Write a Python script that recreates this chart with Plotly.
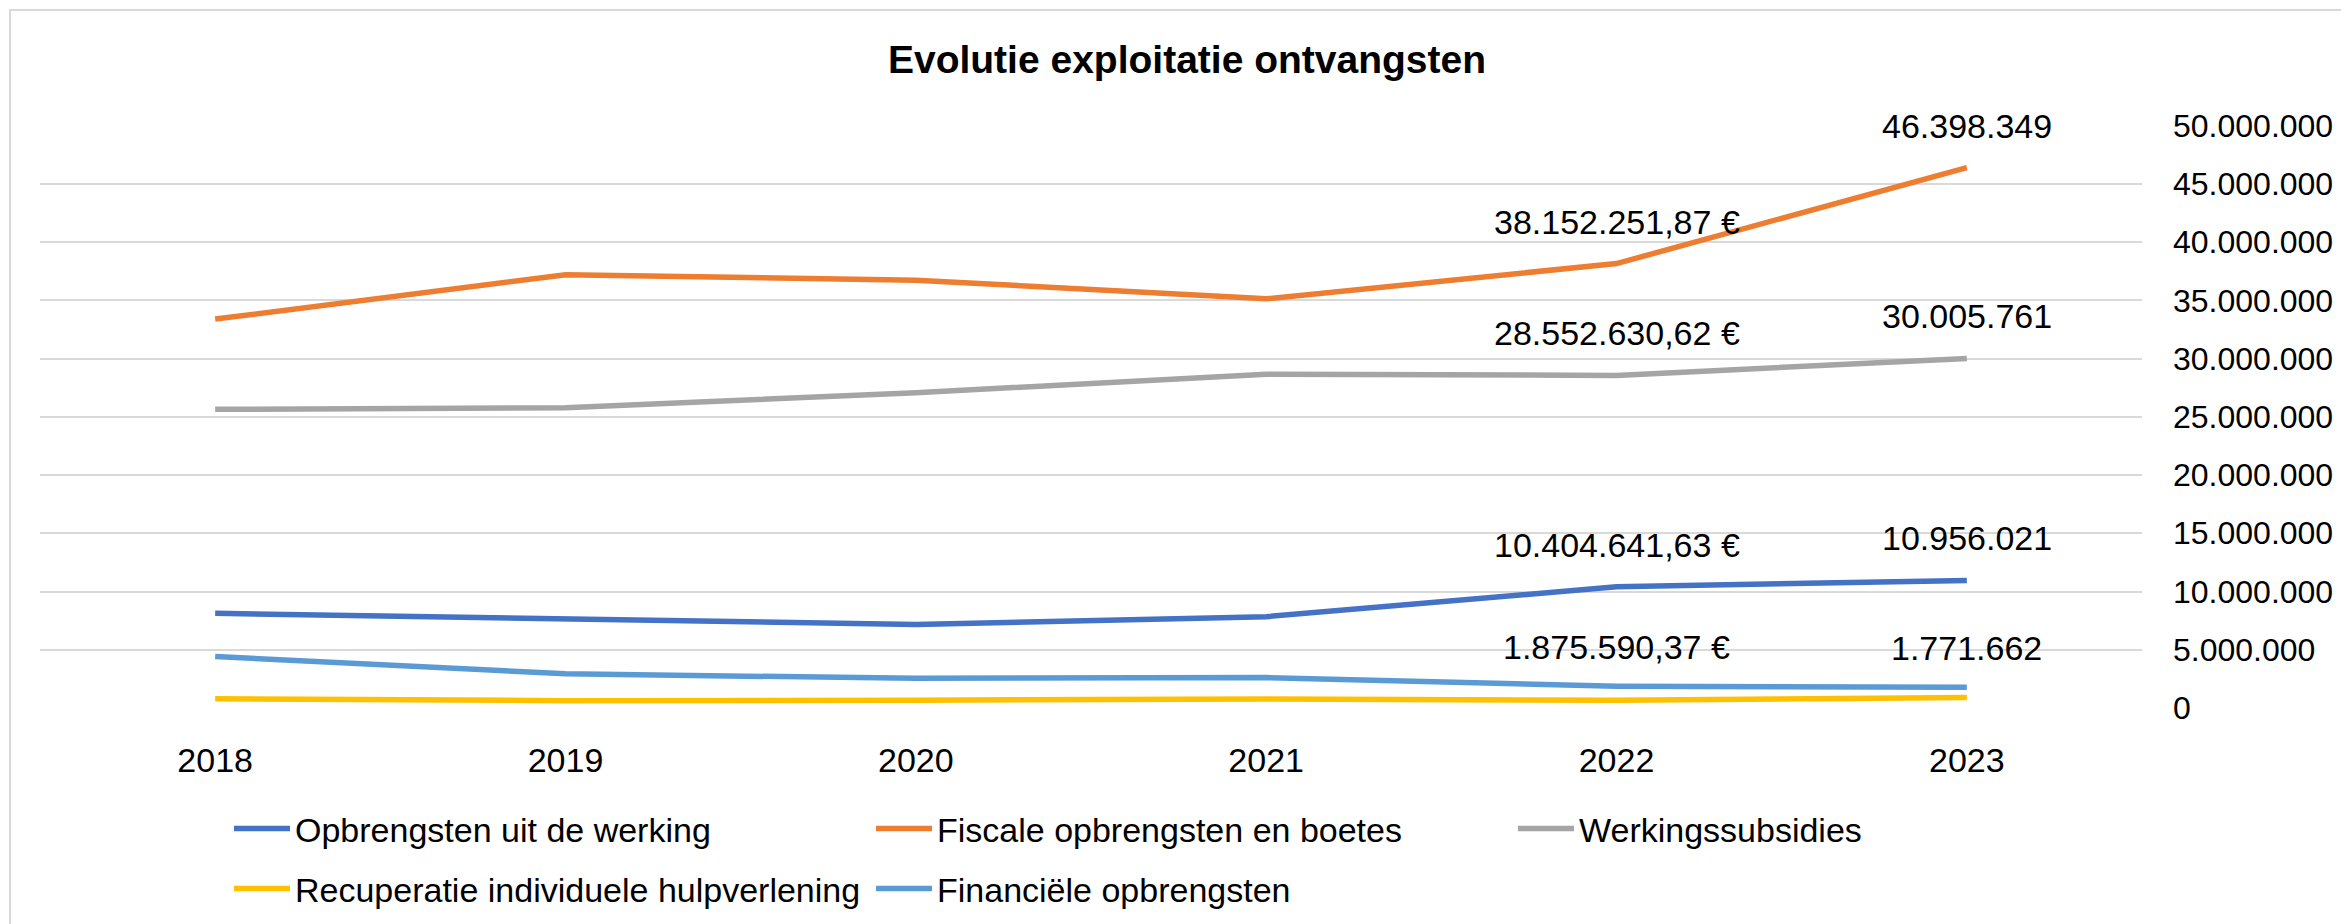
import plotly.graph_objects as go

years = ["2018", "2019", "2020", "2021", "2022", "2023"]

opbrengsten_werking = [8130000, 7630000, 7170000, 7840000, 10404641.63, 10956021]
fiscale_opbrengsten = [33390000, 37190000, 36730000, 35130000, 38152251.87, 46398349]
werkingssubsidies = [25640000, 25780000, 27060000, 28660000, 28552630.62, 30005761]
recuperatie_hulpverlening = [800000, 630000, 670000, 770000, 670000, 910000]
financiele_opbrengsten = [4420000, 2930000, 2550000, 2610000, 1875590.37, 1771662]

series_names = [
    "Opbrengsten uit de werking",
    "Fiscale opbrengsten en boetes",
    "Werkingssubsidies",
    "Recuperatie individuele hulpverlening",
    "Financiële opbrengsten",
]
series_values = [
    opbrengsten_werking,
    fiscale_opbrengsten,
    werkingssubsidies,
    recuperatie_hulpverlening,
    financiele_opbrengsten,
]
colors = ["#4472C4", "#ED7D31", "#A5A5A5", "#FFC000", "#5B9BD5"]
legend_ids = ["legend", "legend", "legend", "legend2", "legend2"]

# data labels (only on 2022 and 2023 for four series)
label_series = [1, 2, 0, 4]
labels_2022 = ["38.152.251,87 €", "28.552.630,62 €", "10.404.641,63 €", "1.875.590,37 €"]
labels_2023 = ["46.398.349", "30.005.761", "10.956.021", "1.771.662"]

y_ticks = [0, 5e6, 10e6, 15e6, 20e6, 25e6, 30e6, 35e6, 40e6, 45e6, 50e6]

FONT = "Liberation Sans"
FS = 34

# page has an 8px body margin -> figure is 8px smaller
W, H = 2341, 916
PL, PR, PT, PB = 32, 2134, 117, 700

fig = go.Figure()
for name, vals, col, lg in zip(series_names, series_values, colors, legend_ids):
    fig.add_trace(go.Scatter(
        x=years, y=vals, name=name, mode="lines",
        line=dict(color=col, width=5.5),
        legend=lg,
    ))

annotations = []
for idx, l22, l23 in zip(label_series, labels_2022, labels_2023):
    shift = 39 if idx == 4 else 42
    for i, txt in ((4, l22), (5, l23)):
        yv = series_values[idx][i]
        annotations.append(dict(
            x=i, y=yv, xref="x", yref="y", text=txt, showarrow=False,
            yshift=shift, xanchor="center", yanchor="middle",
            font=dict(family=FONT, size=FS, color="#000000"),
        ))

legend_common = dict(
    orientation="h", x=(221 - PL) / (PR - PL), xanchor="left", yanchor="middle",
    entrywidth=571, itemwidth=56,
    font=dict(family=FONT, size=FS, color="#000000"),
    bgcolor="rgba(0,0,0,0)",
)

fig.update_layout(
    width=W, height=H,
    margin=dict(l=PL, r=W - PR, t=PT, b=H - PB, autoexpand=False),
    paper_bgcolor="white", plot_bgcolor="white",
    separators=",.",
    font=dict(family=FONT, size=FS, color="#000000"),
    title=dict(
        text="<b>Evolutie exploitatie ontvangsten</b>",
        x=1179 / W, xanchor="center", xref="container",
        y=1 - 51 / H, yanchor="middle", yref="container",
        font=dict(family=FONT, size=39, color="#000000"),
    ),
    xaxis=dict(
        type="category", range=[-0.5, 5.5],
        showgrid=False, zeroline=False, showline=False,
        ticks="", ticklabelstandoff=29,
        tickfont=dict(family=FONT, size=FS, color="#000000"),
    ),
    yaxis=dict(
        side="right", range=[0, 50.05e6],
        tickvals=y_ticks, tickformat=",.0f",
        showgrid=True, gridcolor="#D9D9D9", gridwidth=2,
        zeroline=False, showline=False, ticks="",
        ticklabelstandoff=30,
        tickfont=dict(family=FONT, size=32, color="#000000"),
    ),
    legend=dict(legend_common, y=(PB - 821) / (PB - PT)),
    legend2=dict(legend_common, y=(PB - 881) / (PB - PT)),
    annotations=annotations,
    shapes=[dict(
        type="rect", xref="paper", yref="paper",
        x0=(2 - PL) / (PR - PL), x1=1.5, y0=-1.0, y1=(PB - 2) / (PB - PT),
        line=dict(color="#D9D9D9", width=2), fillcolor="rgba(0,0,0,0)",
        layer="below",
    )],
)

fig.write_html("out.html")
